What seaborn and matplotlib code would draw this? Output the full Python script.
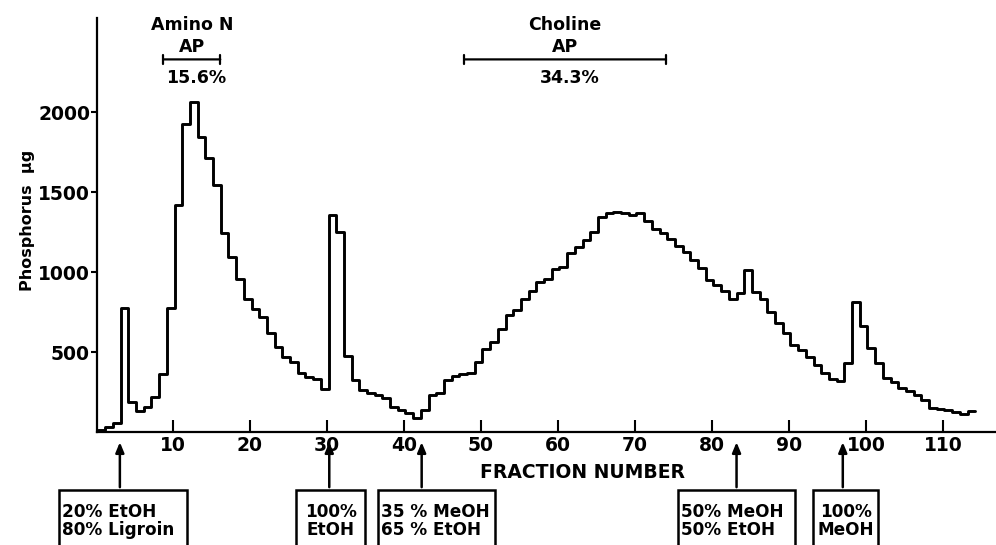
import matplotlib
matplotlib.use("Agg")
import matplotlib.pyplot as plt
from matplotlib.patches import Rectangle
import numpy as np
import pandas as pd
import seaborn as sns

phosphorus = [
    12, 33, 58, 773, 190, 133, 158, 217, 362, 773,
    1423, 1925, 2065, 1846, 1714, 1548, 1242, 1096, 960, 835,
    767, 721, 617, 533, 471, 440, 367, 346, 331, 267,
    1356, 1252, 475, 325, 262, 246, 231, 210, 154, 137,
    117, 90, 137, 231, 246, 325, 350, 360, 371, 440,
    517, 565, 642, 731, 762, 835, 883, 940, 960, 1017,
    1033, 1117, 1158, 1200, 1252, 1346, 1370, 1377, 1373, 1356,
    1367, 1319, 1267, 1242, 1210, 1165, 1127, 1075, 1029, 950,
    919, 881, 829, 871, 1013, 877, 829, 752, 679, 617,
    544, 512, 471, 419, 367, 329, 319, 429, 815, 662,
    523, 429, 335, 315, 273, 258, 231, 200, 152, 142,
    137, 127, 110, 133,
]
first_edge = 0.2  # left edge of the first fraction bin

xticks = [10, 20, 30, 40, 50, 60, 70, 80, 90, 100, 110]
yticks = [500, 1000, 1500, 2000]

# solvent changes (fraction where the new solvent was started)
solvent_at = [3.1, 30.3, 42.3, 83.2, 97.0]
solvent_labels = ["20% EtOH\n80% Ligroin", "100%\nEtOH", "35 % MeOH\n65 % EtOH",
                  "50% MeOH\n50% EtOH", "100%\nMeOH"]

# pooled peaks marked across the top
peak_names = ["Amino N", "Choline"]
peak_start = [8.4, 47.5]
peak_end = [16.5, 74.4]
peak_yield = ["15.6%", "34.3%"]

W, H = 996, 545


def px(x, y):
    """pixel position -> figure fraction"""
    return x / W, 1 - y / H


sns.set_style("ticks", {"axes.edgecolor": "black", "text.color": "black",
                        "axes.labelcolor": "black", "xtick.color": "black",
                        "ytick.color": "black"})
plt.rcParams["font.family"] = ["DejaVu Sans"]
plt.rcParams["font.weight"] = "bold"

fig = plt.figure(figsize=(W / 100, H / 100), dpi=100)
ax = fig.add_axes([97 / W, 113 / H, 899 / W, 414 / H])

df = pd.DataFrame({
    "fraction": first_edge + np.arange(len(phosphorus) + 1),
    "phosphorus": phosphorus + phosphorus[-1:],
})
sns.lineplot(data=df, x="fraction", y="phosphorus", drawstyle="steps-post",
             color="black", linewidth=2.1, ax=ax)

ax.set_xlim(0.13, 116.9)
ax.set_ylim(0, 2590)
ax.set_xticks(xticks)
ax.set_yticks(yticks)
ax.tick_params(axis="x", direction="in", length=9, width=1.5, labelsize=13.5, pad=3)
ax.tick_params(axis="y", direction="out", length=4, width=1.5, labelsize=13.5, pad=1)
for lab in ax.get_xticklabels() + ax.get_yticklabels():
    lab.set_fontweight("bold")
sns.despine(ax=ax)
for side in ["left", "bottom"]:
    ax.spines[side].set_linewidth(1.6)

ax.set_xlabel("FRACTION NUMBER", fontsize=13.5, fontweight="bold")
ax.xaxis.set_label_coords(0.54, -0.075)
ax.set_ylabel("Phosphorus  \u00b5g", fontsize=11.5, fontweight="bold")
ax.yaxis.set_label_coords(-0.069, 0.51)

# peak pools across the top
for name, x0, x1, pct in zip(peak_names, peak_start, peak_end, peak_yield):
    mid = (x0 + x1) / 2
    ax.annotate("", xy=(x0, 2331), xytext=(x1, 2331),
                arrowprops=dict(arrowstyle="|-|,widthA=0.35,widthB=0.35", lw=1.6, color="black"),
                annotation_clip=False)
    ax.text(mid, 2544, name, ha="center", va="center", fontsize=12.5,
            fontweight="bold", clip_on=False)
    ax.text(mid, 2406, "AP", ha="center", va="center", fontsize=12.5,
            fontweight="bold", clip_on=False)
    ax.text(mid + 0.6, 2212, pct, ha="center", va="center", fontsize=12.5,
            fontweight="bold", clip_on=False)

# solvent change arrows and boxes
xt = ax.get_xaxis_transform()
box_left = [59, 296, 378, 678, 813]
box_right = [187, 365, 495, 795, 878]
for f, label, bl, br in zip(solvent_at, solvent_labels, box_left, box_right):
    ax.annotate("", xy=(f, -0.018), xytext=(f, -0.14), xycoords=xt, textcoords=xt,
                arrowprops=dict(arrowstyle="-|>,head_length=0.6,head_width=0.25",
                                lw=1.8, color="black"),
                annotation_clip=False)
    x0, y0 = px(bl, 560)
    x1, y1 = px(br, 490)
    fig.patches.append(Rectangle((x0, y0), x1 - x0, y1 - y0, transform=fig.transFigure,
                                 fill=False, lw=1.8, edgecolor="black"))
    centred = label.startswith("100%")
    tx = (bl + br) / 2 if centred else bl + 3
    for line, base in zip(label.split("\n"), [517, 535]):
        fig.text(*px(tx, base), line, ha="center" if centred else "left", va="baseline",
                 fontsize=12.2, fontweight="bold")

fig.savefig("out.png", dpi=100)
plt.close(fig)
